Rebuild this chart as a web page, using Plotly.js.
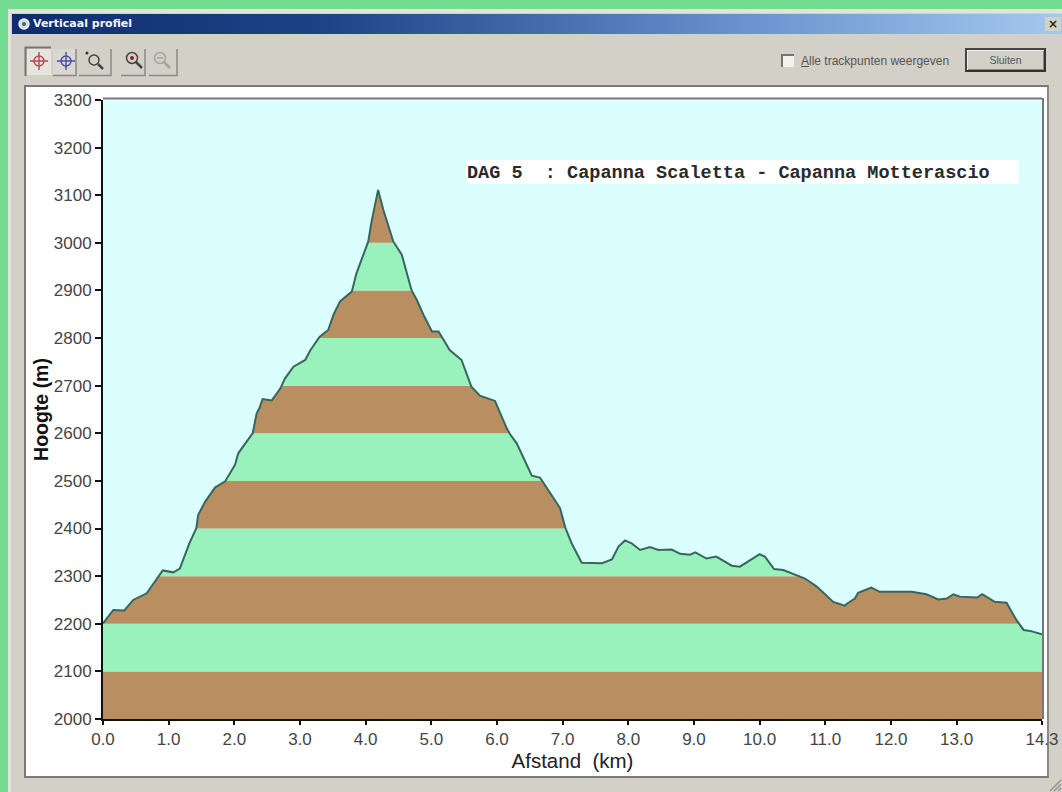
<!DOCTYPE html>
<html><head><meta charset="utf-8">
<script src="https://cdn.plot.ly/plotly-3.0.1.min.js"></script>
<style>
html,body{margin:0;padding:0;background:#74dc90;width:1062px;height:792px;overflow:hidden}
.abs{position:absolute;box-sizing:border-box}
#win{left:8px;top:9px;width:1054px;height:783px;background:#d3d0c7;border-left:3px solid #e4e2dc;border-top:4px solid #e4e2dc}
#title{left:12px;top:14px;width:1050px;height:20px;background:linear-gradient(90deg,#0f2c6d 0%,#1d4488 30%,#6a93cf 70%,#a5c8ee 100%)}
#titletext{left:33px;top:17px;color:#f4f6fa;font:bold 11px "DejaVu Sans",sans-serif;white-space:nowrap}
#close{left:1045px;top:17px;width:16px;height:14px;background:#d3d0c7;color:#222;font:bold 12px/14px "DejaVu Sans",sans-serif;text-align:center}
#panel{left:24px;top:85px;width:1025px;height:693px;background:#fff;border:2px solid #7b7973;border-right-color:#8c8a85;border-bottom-color:#7b7973}
#chk{left:781px;top:54px;width:13px;height:13px;background:#f2f2ee;border-left:2px solid #77756f;border-top:2px solid #77756f}
#chklabel{left:801px;top:54px;color:#555;font:12px "Liberation Sans",sans-serif;white-space:nowrap}
#btn{left:965px;top:48px;width:81px;height:24px;border:2px solid #333;border-top-color:#444;border-left-color:#444;background:#d3d0c7;box-shadow:inset 1px 1px 0 #f0eee8,inset -1px -1px 0 #888;color:#555;font:10.5px/20px "Liberation Sans",sans-serif;text-align:center}
#tools{left:24px;top:46px}
#plot{left:0;top:0;width:1062px;height:792px}
</style></head><body>
<div class="abs" id="win"></div>
<div class="abs" id="title"></div>
<svg class="abs" style="left:17px;top:17px" width="14" height="14"><circle cx="7" cy="7" r="5" fill="#cfe0d8" stroke="#eef" stroke-width="1.5"/><circle cx="7" cy="7" r="2" fill="#3a6a70"/></svg>
<div class="abs" id="titletext">Verticaal profiel</div>
<div class="abs" id="close">×</div>
<svg class="abs" id="tools" width="160" height="32">
  <path d="M1.5 30V1.5H27" fill="none" stroke="#77756f" stroke-width="2"/>
  <rect x="3" y="3" width="24" height="26" fill="#e6e4de"/>
  <g fill="none" stroke="#b34a4a" stroke-width="1.4"><circle cx="15" cy="15" r="5"/><path d="M15 6v18M6 15h18"/></g>
  <rect x="29" y="3" width="24" height="26" fill="#dad8d2"/>
  <path d="M29 29.5H52V3" fill="none" stroke="#8a8882" stroke-width="1.5"/>
  <g fill="none" stroke="#4b4ca8" stroke-width="1.4"><circle cx="42" cy="15" r="5"/><path d="M42 6v18M33 15h18"/></g>
  <path d="M55 29.5H87V3" fill="none" stroke="#8a8882" stroke-width="1.5"/>
  <g fill="none" stroke="#444" stroke-width="1.5"><circle cx="70" cy="14" r="5"/><path d="M74 18l5 5" stroke-width="2.5"/></g>
  <circle cx="63" cy="7" r="1.5" fill="#333"/>
  <path d="M97 29.5H121V3" fill="none" stroke="#8a8882" stroke-width="1.5"/>
  <g fill="none" stroke="#444" stroke-width="1.5"><circle cx="108" cy="12" r="5.5"/><path d="M112 16l6 6" stroke-width="2.5"/></g>
  <circle cx="108" cy="12" r="2" fill="#8a2020"/>
  <path d="M125 29.5H153V3" fill="none" stroke="#8a8882" stroke-width="1.5"/>
  <g fill="none" stroke="#a5a39d" stroke-width="1.5"><circle cx="136" cy="12" r="5.5"/><path d="M140 16l6 6" stroke-width="2.5"/><path d="M133 12h6"/></g>
</svg>
<div class="abs" id="chk"></div>
<div class="abs" id="chklabel"><u>A</u>lle trackpunten weergeven</div>
<div class="abs" id="btn">Sluiten</div>
<div class="abs" id="panel"></div>
<svg class="abs" style="left:1048px;top:778px" width="14" height="14"><path d="M2 13L13 2M6 13L13 6M10 13L13 10" stroke="#8f8d87" stroke-width="1.2"/></svg>
<div class="abs" id="plot"></div>
<script>
const distanceKm = [0,0.157,0.325,0.46,0.665,0.79,0.91,1.07,1.17,1.315,1.42,1.45,1.555,1.705,1.86,2.01,2.06,2.19,2.28,2.34,2.38,2.43,2.57,2.70,2.77,2.90,3.08,3.16,3.30,3.43,3.51,3.61,3.79,3.86,3.96,4.04,4.09,4.19,4.27,4.345,4.42,4.55,4.70,4.78,4.88,5.01,5.11,5.28,5.46,5.61,5.74,5.97,6.15,6.20,6.30,6.53,6.655,6.88,6.96,7.04,7.14,7.29,7.60,7.75,7.85,7.95,8.05,8.18,8.33,8.46,8.66,8.79,8.94,9.02,9.19,9.34,9.575,9.70,10.0,10.08,10.22,10.36,10.69,10.87,11.12,11.30,11.33,11.45,11.50,11.70,11.83,12.32,12.54,12.72,12.85,12.95,13.05,13.31,13.39,13.58,13.76,13.91,14.02,14.12,14.3];
const elevationM = [2201,2229,2228,2250,2264,2288,2312,2308,2316,2369,2400,2429,2456,2486,2499,2534,2558,2583,2600,2642,2652,2672,2669,2694,2715,2740,2754,2775,2803,2817,2849,2877,2898,2936,2971,3003,3045,3111,3069,3038,3003,2975,2900,2880,2849,2814,2814,2775,2754,2698,2679,2668,2610,2598,2579,2511,2507,2460,2443,2402,2368,2328,2327,2335,2362,2375,2369,2355,2361,2355,2356,2347,2345,2350,2337,2341,2322,2320,2346,2341,2315,2313,2295,2278,2246,2238,2242,2253,2265,2276,2267,2267,2262,2251,2253,2262,2257,2255,2262,2246,2244,2208,2187,2185,2178];
const bandBase = [2000,2100,2200,2300,2400,2500,2600,2700,2800,2900,3000,3100];
const bandHeight = [100,100,100,100,100,100,100,100,100,100,100,100];
const bandCenter = [7.15,7.15,7.15,7.15,7.15,7.15,7.15,7.15,7.15,7.15,7.15,7.15];
const brown = '#b98f62', green = '#99f2bb', sky = '#dbffff';
const bandColor = [brown,green,brown,green,brown,green,brown,green,brown,green,brown,green];
const skyX = [0,14.3];
const skyY = [3300,3300];
const xTicks = [0,1,2,3,4,5,6,7,8,9,10,11,12,13,14.3];
const xTickLabels = ['0.0','1.0','2.0','3.0','4.0','5.0','6.0','7.0','8.0','9.0','10.0','11.0','12.0','13.0','14.3'];
const yTicks = [2000,2100,2200,2300,2400,2500,2600,2700,2800,2900,3000,3100,3200,3300];
const noteText = 'DAG 5\u00a0\u00a0: Capanna Scaletta - Capanna Motterascio';

const W=1062,H=792,L=103,R=1042,T=100,B=719;
const px=x=>(x-L)/(R-L), py=y=>(B-y)/(B-T);
const tickFont={family:'"Liberation Sans",Arial,sans-serif',size:17,color:'#454545'};
const data=[
 {type:'bar',x:bandCenter,y:bandHeight,base:bandBase,width:14.3,marker:{color:bandColor,line:{width:0}},hoverinfo:'skip',showlegend:false},
 {type:'scatter',mode:'lines',x:skyX,y:skyY,line:{width:0},hoverinfo:'skip',showlegend:false},
 {type:'scatter',mode:'lines',x:distanceKm,y:elevationM,fill:'tonexty',fillcolor:sky,line:{color:'#37665f',width:2},showlegend:false}
];
const layout={
 width:W,height:H,margin:{l:L,r:W-R,t:T,b:H-B,pad:0},
 paper_bgcolor:'rgba(0,0,0,0)',plot_bgcolor:sky,showlegend:false,barmode:'overlay',
 xaxis:{range:[0,14.3],tickmode:'array',tickvals:xTicks,ticktext:xTickLabels,ticks:'outside',ticklen:4,tickwidth:2,tickcolor:'#111',
   showgrid:false,zeroline:false,showline:true,linecolor:'#111',linewidth:2,tickfont:tickFont,
   title:{text:'Afstand\u00a0\u00a0(km)',font:{family:'"Liberation Sans",Arial,sans-serif',size:20.5,color:'#222'},standoff:4}},
 yaxis:{range:[2000,3300],tickmode:'array',tickvals:yTicks,ticks:'outside',ticklen:6,tickwidth:2,tickcolor:'#111',
   showgrid:false,zeroline:false,showline:true,linecolor:'#111',linewidth:2,tickfont:tickFont,
   title:{text:'<b>Hoogte (m)</b>',font:{family:'"Liberation Sans",Arial,sans-serif',size:19.5,color:'#111'},standoff:0}},
 shapes:[
  {type:'line',xref:'paper',yref:'paper',x0:0,x1:1,y0:py(98.5),y1:py(98.5),line:{color:'#77757a',width:2}},
  {type:'line',xref:'paper',yref:'paper',x0:px(1043),x1:px(1043),y0:0,y1:py(98),line:{color:'#77757a',width:2}},
  {type:'rect',xref:'paper',yref:'paper',x0:px(466),x1:px(1019),y0:py(184),y1:py(160),fillcolor:'#ffffff',line:{width:0}}
 ],
 annotations:[{xref:'paper',yref:'paper',x:px(465),y:py(173),xanchor:'left',yanchor:'middle',align:'left',
   showarrow:false,text:'<b>'+noteText+'</b>',
   font:{family:'"Liberation Mono","Courier New",monospace',size:18.55,color:'#2a2a2a'}}]
};
Plotly.newPlot('plot',data,layout,{displayModeBar:false,staticPlot:true});
</script>
</body></html>
